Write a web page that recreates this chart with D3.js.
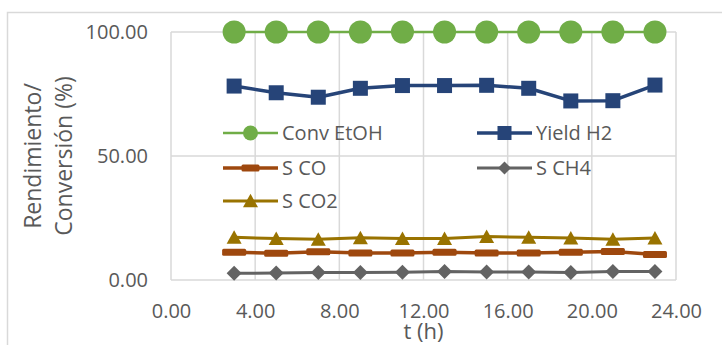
<!DOCTYPE html>
<html><head><meta charset="utf-8">
<script src="https://cdn.jsdelivr.net/npm/d3@7"></script>
<style>body{margin:0;background:#fff}svg{display:block}</style>
</head><body>
<script>
const hours = [3,5,7,9,11,13,15,17,19,21,23];
const convEtOH = [100,100,100,100,100,100,100,100,100,100,100];
const yieldH2 = [78.2,75.5,73.7,77.3,78.4,78.4,78.5,77.3,72.2,72.3,78.6];
const sCO = [11.2,10.8,11.4,10.9,10.9,11.2,10.9,10.9,11.2,11.5,10.3];
const sCH4 = [2.7,2.8,3.0,3.0,3.1,3.4,3.2,3.2,3.0,3.4,3.4];
const sCO2 = [17.2,16.7,16.4,17.0,16.7,16.7,17.5,17.2,16.9,16.4,16.9];
const xTicks = [0,4,8,12,16,20,24];
const yTicks = [0,50,100];
const seriesNames = ["Conv EtOH","Yield H2","S CO","S CH4","S CO2"];

const W=722,H=345;
const svg=d3.select("body").append("svg").attr("width",W).attr("height",H);
const font="'Open Sans', sans-serif", txt="#595959", grid="#d9d9d9";
svg.append("rect").attr("x",7.5).attr("y",12.5).attr("width",900).attr("height",500)
  .attr("fill","#fff").attr("stroke",grid).attr("stroke-width",1.5);

const L=171,R=676,T=32,B=280;
const x=d3.scaleLinear().domain([0,24]).range([L,R]);
const y=d3.scaleLinear().domain([0,100]).range([B,T]);

// grid
svg.append("g").selectAll("line").data(xTicks).join("line")
  .attr("x1",d=>x(d)).attr("x2",d=>x(d)).attr("y1",T).attr("y2",B)
  .attr("stroke",grid).attr("stroke-width",1.5);
svg.append("g").selectAll("line").data(yTicks).join("line")
  .attr("x1",L).attr("x2",R).attr("y1",d=>y(d)).attr("y2",d=>y(d))
  .attr("stroke",grid).attr("stroke-width",1.5);

// axes
const xa=svg.append("g").attr("transform",`translate(0,${B})`)
  .call(d3.axisBottom(x).tickValues(xTicks).tickFormat(d3.format(".2f")).tickSize(0).tickPadding(23.5));
const ya=svg.append("g").attr("transform",`translate(${L},0)`)
  .call(d3.axisLeft(y).tickValues(yTicks).tickFormat(d3.format(".2f")).tickSize(0).tickPadding(23));
[xa,ya].forEach(a=>{a.select(".domain").remove();
  a.selectAll("text").attr("fill",txt).style("font-family",font).style("font-size","20px");});

svg.append("text").attr("x",(L+R)/2).attr("y",339).attr("text-anchor","middle")
  .attr("fill",txt).style("font-family",font).style("font-size","22px").text("t (h)");
[["Rendimiento/",41],["Conversión (%)",72]].forEach(([t,bx])=>{
  svg.append("text").attr("transform",`translate(${bx},156) rotate(-90)`).attr("text-anchor","middle")
    .attr("fill",txt).style("font-family",font).style("font-size","23px").text(t);
});

const line=d3.line().x(d=>x(d[0])).y(d=>y(d[1]));
const zip=v=>hours.map((h,i)=>[h,v[i]]);

function marker(g,type,color,s){
  if(type==="circle") g.append("circle").attr("r",s/2).attr("fill",color);
  else if(type==="square") g.append("rect").attr("x",-s/2).attr("y",-s/2).attr("width",s).attr("height",s).attr("fill",color);
  else if(type==="diamond") g.append("path").attr("d",`M0,${-s/2}L${s/2},0L0,${s/2}L${-s/2},0Z`).attr("fill",color);
  else if(type==="triangle") g.append("path").attr("d",`M0,${-s*0.48}L${s/2},${s*0.42}L${-s/2},${s*0.42}Z`).attr("fill",color);
  else if(type==="dash") g.append("rect").attr("x",-s/2).attr("y",-3.5).attr("width",s).attr("height",7).attr("rx",1.5).attr("fill",color);
}

const series=[
  {name:seriesNames[0],vals:convEtOH,color:"#70ad47",type:"circle",size:23,lw:2.5,ls:15},
  {name:seriesNames[1],vals:yieldH2,color:"#264478",type:"square",size:15,lw:3.5,ls:14},
  {name:seriesNames[2],vals:sCO,color:"#9e480e",type:"dash",size:24,lw:3.5,ls:18},
  {name:seriesNames[3],vals:sCH4,color:"#636363",type:"diamond",size:15,lw:3,ls:13},
  {name:seriesNames[4],vals:sCO2,color:"#997300",type:"triangle",size:15,lw:3,ls:15}
];
const drawOrder=[4,3,2,1,0];
drawOrder.forEach(k=>{
  const s=series[k];
  svg.append("path").datum(zip(s.vals)).attr("d",line).attr("fill","none")
    .attr("stroke",s.color).attr("stroke-width",s.lw).attr("stroke-linejoin","round");
  zip(s.vals).forEach(p=>{
    marker(svg.append("g").attr("transform",`translate(${x(p[0])},${y(p[1])})`),s.type,s.color,s.size);
  });
});

// legend
const legPos=[[223,133],[477,133],[223,168],[477,168],[223,201]];
series.forEach((s,i)=>{
  const [lx,ly]=legPos[i];
  const g=svg.append("g").attr("transform",`translate(${lx},${ly})`);
  g.append("line").attr("x1",0).attr("x2",55).attr("y1",0).attr("y2",0)
    .attr("stroke",s.color).attr("stroke-width",s.lw);
  marker(g.append("g").attr("transform","translate(27.5,0)"),s.type,s.color,s.ls);
  g.append("text").attr("x",59).attr("y",0).attr("dy","0.35em").attr("fill",txt)
    .style("font-family",font).style("font-size","20px").text(s.name);
});
</script>
</body></html>
